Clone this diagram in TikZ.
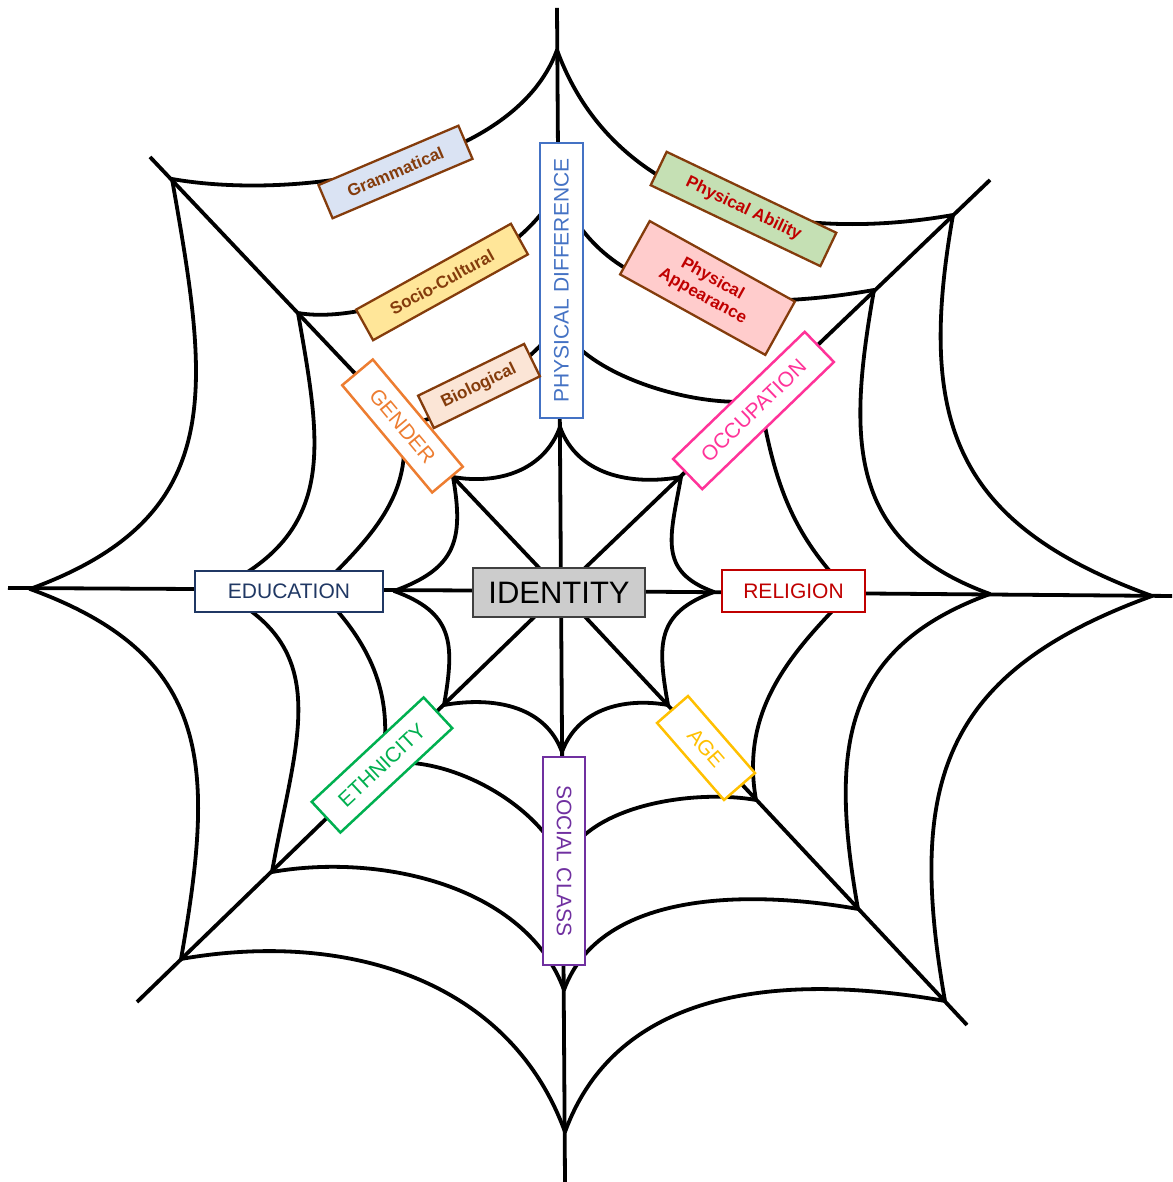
\documentclass[tikz,border=0pt]{standalone}
\usepackage{fontspec}
\setmainfont{Liberation Sans}
\usepackage{tikz}

\definecolor{navy}{HTML}{203864}
\definecolor{darkred}{HTML}{C00000}
\definecolor{pdblue}{HTML}{4472C4}
\definecolor{scpurple}{HTML}{7030A0}
\definecolor{gorange}{HTML}{ED7D31}
\definecolor{opink}{HTML}{FF3399}
\definecolor{egreen}{HTML}{00B050}
\definecolor{ayellow}{HTML}{FFC000}
\definecolor{subbrown}{HTML}{843C0C}
\definecolor{gramfill}{HTML}{DAE3F3}
\definecolor{sociofill}{HTML}{FFE699}
\definecolor{biofill}{HTML}{FBE5D6}
\definecolor{abilfill}{HTML}{C5E0B4}
\definecolor{appfill}{HTML}{FFCCCC}

\begin{document}
\begin{tikzpicture}[x=1pt,y=1pt,
    web/.style={line width=3.8pt},
    ring/.style={line width=3.8pt,line cap=round},
    tag/.style={draw,fill=white,line width=2.5pt,inner sep=0pt,font=\fontsize{21}{24}\selectfont},
    sub/.style={draw=subbrown,line width=2.3pt,inner sep=0pt,font=\bfseries\fontsize{17}{20}\selectfont,align=center}]

\useasboundingbox (0,0) rectangle (1172,1182);

% spoke ends and centre
\coordinate (c) at (561,591);
\coordinate (nE) at (557,1174);
\coordinate (sE) at (565,0);
\coordinate (wE) at (8,594);
\coordinate (eE) at (1172,586);
\coordinate (nwE) at (150,1025);
\coordinate (neE) at (990,1002);
\coordinate (swE) at (137,180);
\coordinate (seE) at (967,157);

% ring points, outer to inner
\coordinate (n1) at (557,1132);
\coordinate (ne1) at (953,967);
\coordinate (e1) at (1152,586);
\coordinate (se1) at (945,181);
\coordinate (s1) at (565,50);
\coordinate (sw1) at (181,223);
\coordinate (w1) at (30,593);
\coordinate (nw1) at (172,1003);

\coordinate (n2) at (558,997);
\coordinate (ne2) at (874,892);
\coordinate (e2) at (990,588);
\coordinate (se2) at (858,273);
\coordinate (s2) at (564,192);
\coordinate (sw2) at (272,310);
\coordinate (w2) at (215,592);
\coordinate (nw2) at (298,869);

\coordinate (n3) at (559,862);
\coordinate (ne3) at (760,782);
\coordinate (e3) at (850,589);
\coordinate (se3) at (756,382);
\coordinate (s3) at (563,317);
\coordinate (sw3) at (382,418);
\coordinate (w3) at (318,592);
\coordinate (nw3) at (402,759);

\coordinate (n4) at (560,755);
\coordinate (ne4) at (681,705);
\coordinate (e4) at (714,590);
\coordinate (se4) at (668,477);
\coordinate (s4) at (562,430);
\coordinate (sw4) at (444,477);
\coordinate (w4) at (394,591);
\coordinate (nw4) at (453,705);

% spokes
\draw[web] (nE) -- (c) -- (sE);
\draw[web] (wE) -- (c) -- (eE);
\draw[web] (nwE) -- (c) -- (seE);
\draw[web] (neE) -- (c) -- (swE);

% ring 1
\draw[ring] (nw1) to[out=350,in=250,looseness=0.8] (n1);
\draw[ring] (ne1) to[out=190,in=290] (n1);
\draw[ring] (nw1) to[out=280,in=20,looseness=1.25] (w1);
\draw[ring] (sw1) to[out=80,in=340,looseness=1.25] (w1);
\draw[ring] (ne1) to[out=260,in=160,looseness=1.25] (e1);
\draw[ring] (se1) to[out=100,in=200,looseness=1.25] (e1);
\draw[ring] (sw1) to[out=10,in=110] (s1);
\draw[ring] (se1) to[out=170,in=70] (s1);

% ring 2
\draw[ring] (nw2) to[out=350,in=250,looseness=0.7] (n2);
\draw[ring] (ne2) to[out=190,in=290] (n2);
\draw[ring] (nw2) to[out=280,in=25,looseness=1.2] (w2);
\draw[ring] (sw2) to[out=80,in=335,looseness=1.2] (w2);
\draw[ring] (ne2) to[out=260,in=160,looseness=1.2] (e2);
\draw[ring] (se2) to[out=100,in=200,looseness=1.2] (e2);
\draw[ring] (sw2) to[out=10,in=110,looseness=0.9] (s2);
\draw[ring] (se2) to[out=170,in=70,looseness=0.9] (s2);

% ring 3
\draw[ring] (nw3) to[out=350,in=250,looseness=0.5] (n3);
\draw[ring] (ne3) to[out=190,in=290,looseness=0.7] (n3);
\draw[ring] (nw3) to[out=280,in=45] (w3);
\draw[ring] (sw3) to[out=80,in=315] (w3);
\draw[ring] (ne3) to[out=280,in=135] (e3);
\draw[ring] (se3) to[out=100,in=225] (e3);
\draw[ring] (sw3) to[out=10,in=110,looseness=0.8] (s3);
\draw[ring] (se3) to[out=170,in=70,looseness=0.8] (s3);

% ring 4
\draw[ring] (nw4) to[out=350,in=250] (n4);
\draw[ring] (ne4) to[out=190,in=290] (n4);
\draw[ring] (nw4) to[out=280,in=20,looseness=1.3] (w4);
\draw[ring] (sw4) to[out=80,in=340,looseness=1.3] (w4);
\draw[ring] (ne4) to[out=260,in=160,looseness=1.3] (e4);
\draw[ring] (se4) to[out=100,in=200,looseness=1.3] (e4);
\draw[ring] (sw4) to[out=10,in=110] (s4);
\draw[ring] (se4) to[out=170,in=70] (s4);

% labels
\node[draw=black!75,fill=gray!40,line width=2pt,minimum width=172pt,minimum height=49pt,inner sep=0pt,font=\fontsize{31}{35}\selectfont] (id) at (559,589) {IDENTITY};

\node[tag,draw=navy,text=navy,minimum width=188pt,minimum height=41pt] (edu) at (289,590.5) {EDUCATION};
\node[tag,draw=darkred,text=darkred,minimum width=143pt,minimum height=42pt] (rel) at (793.5,591) {RELIGION};
\node[tag,draw=pdblue,text=pdblue,minimum width=275pt,minimum height=43pt,rotate=90] (phys) at (561.5,901.5) {PHYSICAL DIFFERENCE};
\node[tag,draw=scpurple,text=scpurple,minimum width=208pt,minimum height=42pt,rotate=-90] (soc) at (564,321) {SOCIAL CLASS};
\node[tag,draw=gorange,text=gorange,minimum width=140pt,minimum height=40pt,rotate=-50] (gen) at (402.5,756) {GENDER};
\node[tag,draw=opink,text=opink,minimum width=183pt,minimum height=42pt,rotate=44] (occ) at (753.5,771.5) {OCCUPATION};
\node[tag,draw=egreen,text=egreen,minimum width=153pt,minimum height=42pt,rotate=43] (eth) at (382,417) {ETHNICITY};
\node[tag,draw=ayellow,text=ayellow,minimum width=102pt,minimum height=41pt,rotate=-49] (age) at (706,434) {AGE};

\node[sub,fill=gramfill,text=subbrown,minimum width=152pt,minimum height=36pt,rotate=23] (gram) at (395.5,1010) {Grammatical};
\node[sub,fill=sociofill,text=subbrown,minimum width=177pt,minimum height=35pt,rotate=29] (socio) at (442,900) {Socio-Cultural};
\node[sub,fill=biofill,text=subbrown,minimum width=118pt,minimum height=36pt,rotate=26] (bio) at (479,796) {Biological};
\node[sub,fill=abilfill,text=darkred,minimum width=188pt,minimum height=37pt,rotate=-25.5] (abil) at (743.5,973) {Physical Ability};
\node[sub,fill=appfill,text=darkred,minimum width=166pt,minimum height=61pt,rotate=-29] (appear) at (707.5,894) {Physical\\Appearance};

\end{tikzpicture}
\end{document}
